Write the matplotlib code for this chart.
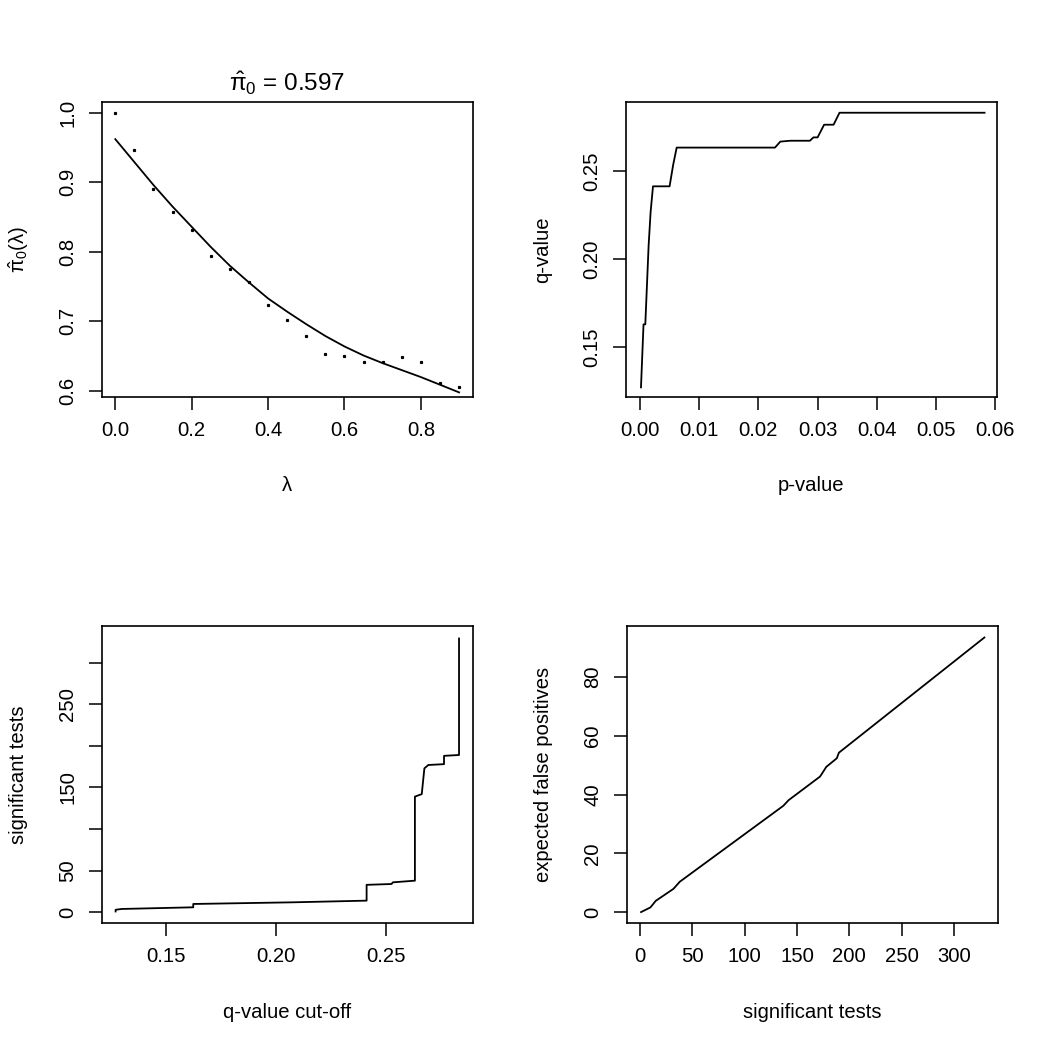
import matplotlib
matplotlib.use("Agg")
import matplotlib.pyplot as plt

plt.rcParams['font.family'] = ['Liberation Sans', 'DejaVu Sans']
plt.rcParams['mathtext.fontset'] = 'custom'
plt.rcParams['mathtext.rm'] = 'Liberation Sans'
plt.rcParams['mathtext.it'] = 'Liberation Sans'
plt.rcParams['mathtext.bf'] = 'Liberation Sans'

# pi0 estimate vs lambda
lam = [0.0, 0.05, 0.10, 0.15, 0.20, 0.25, 0.30, 0.35, 0.40, 0.45,
       0.50, 0.55, 0.60, 0.65, 0.70, 0.75, 0.80, 0.85, 0.90]
pi0_raw = [1.000, 0.947, 0.890, 0.857, 0.831, 0.794, 0.775, 0.757, 0.724, 0.702,
           0.679, 0.653, 0.651, 0.641, 0.642, 0.649, 0.642, 0.611, 0.606]
pi0_smooth = [0.962, 0.929, 0.896, 0.865, 0.836, 0.807, 0.780, 0.756, 0.733, 0.714,
              0.696, 0.679, 0.664, 0.651, 0.640, 0.630, 0.620, 0.609, 0.598]
pi0_title = 0.597

# q-value vs p-value
p_vals = [0.00017, 0.0006, 0.0009, 0.00146, 0.0018, 0.0022, 0.0050, 0.0056, 0.0062, 0.0177,
          0.0228, 0.0237, 0.0254, 0.0287, 0.0293, 0.0300, 0.0311, 0.0327, 0.0337, 0.0582]
q_vals = [0.1271, 0.1629, 0.1629, 0.2076, 0.2269, 0.2413, 0.2413, 0.2534, 0.2633, 0.2633,
          0.2633, 0.2667, 0.2672, 0.2672, 0.2691, 0.2691, 0.2763, 0.2763, 0.2831, 0.2831]

# significant tests vs q-value cut-off
q_cut = [0.1273, 0.1273, 0.1300, 0.1625, 0.1625, 0.2078, 0.2411, 0.2411, 0.2524, 0.2530,
         0.2630, 0.2630, 0.2661, 0.2673, 0.2691, 0.2762, 0.2762, 0.2830, 0.2830]
n_sig = [1, 3, 4, 6, 10, 12, 14, 33, 34, 36, 38, 139, 142, 173, 177, 178, 188, 189, 329]

# expected false positives vs significant tests
n_tests = [1, 10, 15, 32, 38, 137, 142, 172, 178, 188, 190, 329]
exp_fp = [0.1, 1.7, 3.9, 8.0, 10.4, 36.2, 38.1, 46.1, 49.4, 52.3, 54.2, 93.3]

fig = plt.figure(figsize=(10.5, 10.5), dpi=100)

W = 1050.0
def make_ax(l, r, t, b):
    return fig.add_axes([l / W, 1 - b / W, (r - l) / W, (b - t) / W])

ax1 = make_ax(102, 472.7, 102, 396.7)
ax2 = make_ax(626, 996.7, 102, 396.7)
ax3 = make_ax(101.7, 472.7, 626, 922.7)
ax4 = make_ax(626.7, 997.7, 626, 922.7)

fs = 14.6
lw = 1.3
for ax in [ax1, ax2, ax3, ax4]:
    for s in ax.spines.values():
        s.set_linewidth(1.2)
    ax.tick_params(axis='both', length=9.5, width=1.1, labelsize=fs, pad=8)
    ax.tick_params(axis='y', labelrotation=90)

# panel 1
ax1.plot(lam, pi0_raw, linestyle='none', marker='s', ms=1.3, color='black')
ax1.plot(lam, pi0_smooth, color='black', lw=lw)
ax1.set_xlim(-0.0348, 0.9356)
ax1.set_ylim(0.5918, 1.0154)
ax1.set_xticks([0.0, 0.2, 0.4, 0.6, 0.8])
ax1.set_xticklabels(['0.0', '0.2', '0.4', '0.6', '0.8'])
ax1.set_yticks([0.6, 0.7, 0.8, 0.9, 1.0])
ax1.set_yticklabels(['0.6', '0.7', '0.8', '0.9', '1.0'], va='center')
ax1.set_xlabel(r'$\lambda$', fontsize=fs)
ax1.set_ylabel(r'$\hat{\pi}_0(\lambda)$', fontsize=fs)
ax1.set_title(r'$\hat{\pi}_0$ = %.3f' % pi0_title, fontsize=17.5, pad=8)

# panel 2
ax2.plot(p_vals, q_vals, color='black', lw=lw)
ax2.set_xlim(-0.00236, 0.06025)
ax2.set_ylim(0.1218, 0.2892)
ax2.set_xticks([0.0, 0.01, 0.02, 0.03, 0.04, 0.05, 0.06])
ax2.set_xticklabels(['0.00', '0.01', '0.02', '0.03', '0.04', '0.05', '0.06'])
ax2.set_yticks([0.15, 0.20, 0.25])
ax2.set_yticklabels(['0.15', '0.20', '0.25'], va='center')
ax2.set_xlabel('p-value', fontsize=fs)
ax2.set_ylabel('q-value', fontsize=fs)

# panel 3
ax3.plot(q_cut, n_sig, color='black', lw=lw)
ax3.set_xlim(0.121, 0.2892)
ax3.set_ylim(-12.5, 344)
ax3.set_xticks([0.15, 0.20, 0.25])
ax3.set_xticklabels(['0.15', '0.20', '0.25'])
ax3.set_yticks([0, 50, 100, 150, 200, 250, 300])
ax3.set_yticklabels(['0', '50', '', '150', '', '250', ''], va='center')
ax3.set_xlabel('q-value cut-off', fontsize=fs)
ax3.set_ylabel('significant tests', fontsize=fs)

# panel 4
ax4.plot(n_tests, exp_fp, color='black', lw=lw)
ax4.set_xlim(-12.7, 341.7)
ax4.set_ylim(-3.5, 97.2)
ax4.set_xticks([0, 50, 100, 150, 200, 250, 300])
ax4.set_yticks([0, 20, 40, 60, 80])
ax4.set_yticklabels(['0', '20', '40', '60', '80'], va='center')
ax4.set_xlabel('significant tests', fontsize=fs)
ax4.set_ylabel('expected false positives', fontsize=fs)

for ax in [ax1, ax2, ax3, ax4]:
    ax.xaxis.set_label_coords(0.5, -0.303)
    ax.xaxis.label.set_va('center')
    ax.yaxis.set_label_coords(-0.225, 0.5)
    ax.yaxis.label.set_va('center')

fig.savefig('out.png', dpi=100)
